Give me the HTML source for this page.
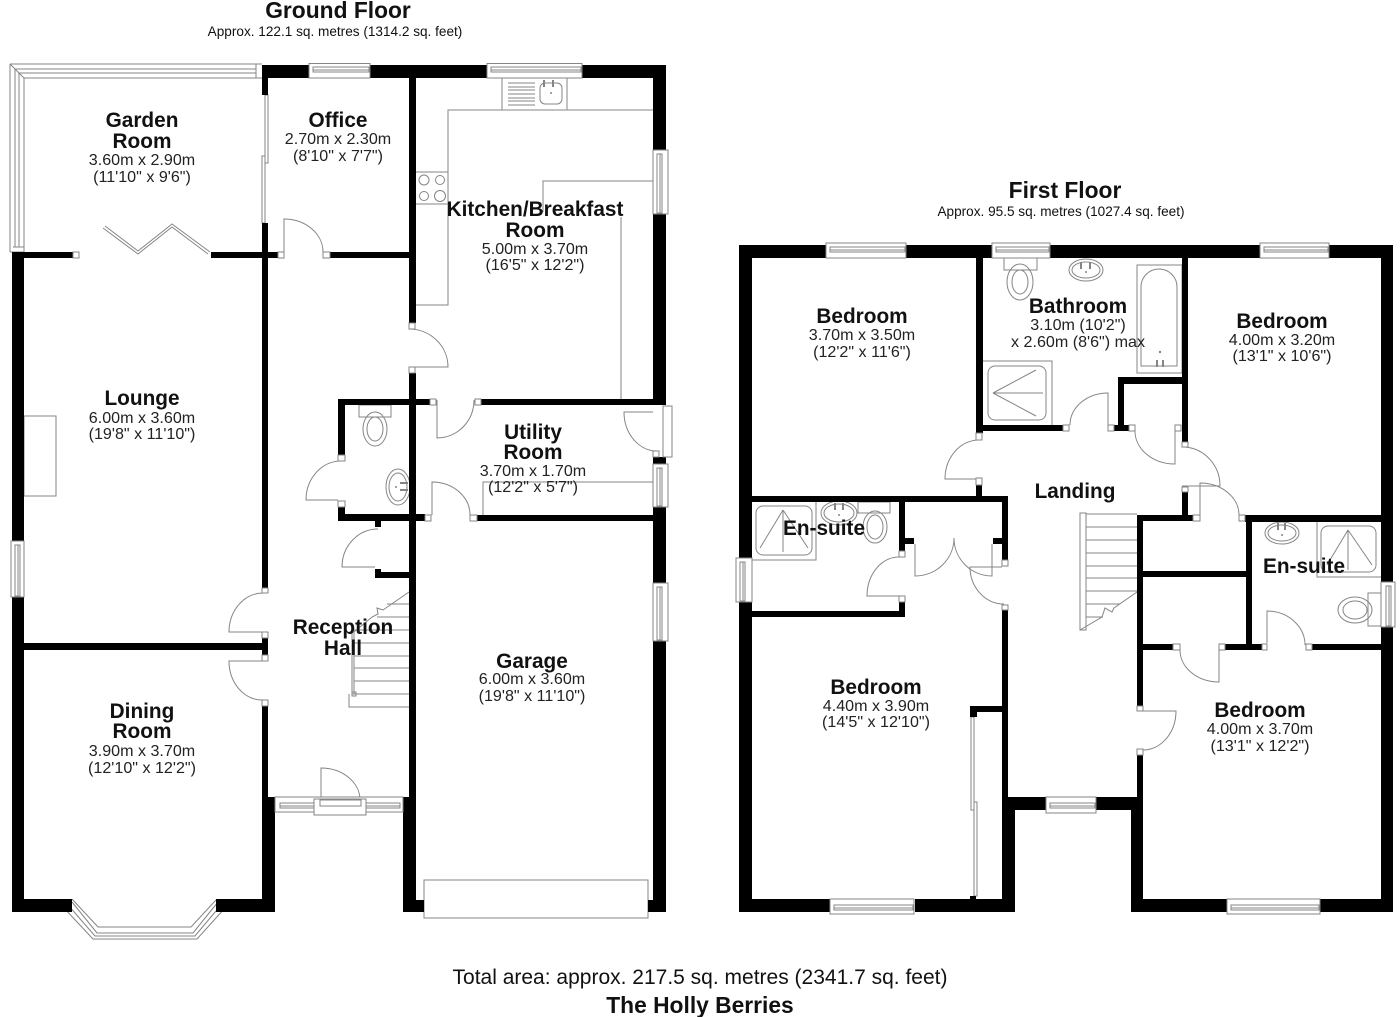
<!DOCTYPE html>
<html><head><meta charset="utf-8"><title>The Holly Berries</title>
<style>
html,body{margin:0;padding:0;background:#fff}
svg{display:block}
text{font-family:"Liberation Sans",sans-serif;fill:#111;text-anchor:middle}
.t{font-weight:bold;font-size:20.8px}
.d{font-size:16.1px;fill:#222}
.l{fill:none;stroke:#858585;stroke-width:1}
.j{fill:#fff;stroke:#858585;stroke-width:1}
.k{fill:#858585;stroke:none}
</style></head><body>
<svg width="1400" height="1017" viewBox="0 0 1400 1017" xmlns="http://www.w3.org/2000/svg">
<rect width="1400" height="1017" fill="#fff"/>

<!-- GROUND FLOOR fixtures and thin lines -->
<g class="l">
<path d="M10 64H262M15 69H256M19 73H256M24 78H262M10 64V252M15 69V247M19 73V247M24 78V252M10 64L24 78M10 252H24M256 64V78M13 247H24"/>
<path d="M265 95H268V163H265ZM262 156H265V223H262Z"/>
<path d="M103 228L138 254L172 227L208 254M105 226L138 251L172 224L210 252"/>
<path d="M416 305H448V110H653M502 78V110M567 78V110M416 172H448M416 204H448M543 212V181H653M621 217V400"/>
<path d="M508 83H535M508 87H535M508 90H535M508 94H535M508 98H535M508 101H535M508 105H535"/>
<rect x="540" y="83" width="22" height="21" rx="5"/>
<path d="M544 80v7M553 80v7" stroke-width="2"/>
<circle cx="424" cy="180" r="5"/><circle cx="440" cy="180" r="4.5"/><circle cx="424" cy="196" r="4.5"/><circle cx="440" cy="196" r="5.5"/>
<path d="M284 252V219A39 33 0 0 1 323 252"/>
<path d="M409 367H448A39 38 0 0 0 409 329"/>
<path d="M437 400V438A37 38 0 0 0 474 400"/>
<path d="M432 515V482A38 33 0 0 1 470 515"/>
<path d="M653 412H624A33 39 0 0 0 657 451"/>
<path d="M338 500H306A35 39 0 0 1 341 461"/>
<path d="M375 567H342A36 38 0 0 1 378 529"/>
<path d="M262 632H229A34 39 0 0 1 263 593"/>
<path d="M262 661H229A33 39 0 0 0 262 700"/>
<path d="M321 800V768A39 32 0 0 1 360 800"/>
<path d="M483 515V482H653"/>
<rect x="359" y="405" width="32" height="12"/>
<ellipse cx="375" cy="429" rx="12" ry="17"/><ellipse cx="375" cy="429" rx="8" ry="12"/>
<ellipse cx="398" cy="487" rx="12" ry="18"/><ellipse cx="398" cy="487" rx="9" ry="14"/>
<path d="M400 483h8M400 490h8" stroke-width="2"/>
<rect x="24" y="416" width="32" height="80"/>
<path d="M409 592L383 610L377 608L378 614L372 617L354 632V694M352 632V694H409M349 694V707H409M387 604H409M377 617H409M354 630H409M354 643H409M354 656H409M354 668H409M354 681H409"/>
<rect x="352" y="692" width="4" height="4"/>
<path d="M424 900V880H648V918H424Z" fill="#fff"/>
<path d="M64 908L93 939H197L225 908M68 905L95 936H195L221 905M72 902L97 933H193L218 902M72 899L98 927H191L216 900M64 908L72 899M225 908L216 900"/>
</g>
<g class="k">
<circle cx="551" cy="93" r="1"/><circle cx="396" cy="487" r="1"/>
<circle cx="1086" cy="272" r="1"/><circle cx="1160" cy="352" r="1.2"/>
<circle cx="839" cy="515" r="1"/><circle cx="1282" cy="535" r="1"/>
</g>

<!-- FIRST FLOOR fixtures and thin lines -->
<g class="l">
<rect x="1004" y="258" width="33" height="12"/>
<ellipse cx="1020" cy="282" rx="13" ry="18"/><ellipse cx="1020" cy="282" rx="8" ry="12"/>
<ellipse cx="1086" cy="270" rx="17" ry="11"/><ellipse cx="1086" cy="270" rx="14" ry="8"/>
<path d="M1081 262v7M1090 262v7" stroke-width="2"/>
<rect x="1137" y="265" width="45" height="108"/>
<path d="M1141 366V287A18 18 0 0 1 1177 287V366Z"/>
<path d="M1157 360v7M1163 360v7" stroke-width="2"/>
<path d="M983 361H1052V425"/>
<rect x="988" y="366" width="58" height="54" rx="7"/>
<path d="M993 393L1036 370M993 393H1043M993 393L1036 416"/>
<path d="M977 479H945A34 39 0 0 1 979 440"/>
<path d="M1108 425V393A38 32 0 0 0 1070 425"/>
<path d="M1175 431V464A40 33 0 0 1 1135 431"/>
<path d="M1182 486H1220A38 39 0 0 0 1185 447"/>
<path d="M1200 515V483A39 32 0 0 1 1239 515"/>
<path d="M899 596H867A32 39 0 0 1 899 557"/>
<path d="M915 544V576A39 38 0 0 0 954 538"/>
<path d="M992 544V576A38 38 0 0 1 954 538"/>
<path d="M1002 567H970A34 37 0 0 0 1004 604"/>
<path d="M1143 711H1176A33 39 0 0 1 1143 750"/>
<path d="M1219 650V682A39 32 0 0 1 1180 650"/>
<path d="M1267 643V611A38 34 0 0 1 1305 645"/>
<path d="M752 560H816V502"/>
<rect x="756" y="506" width="56" height="49" rx="7"/>
<path d="M783 510L760 548M783 510V552M783 510L808 548"/>
<ellipse cx="839" cy="513" rx="18" ry="12"/><ellipse cx="839" cy="513" rx="15" ry="9"/>
<path d="M835 503v7M843 503v7" stroke-width="2"/>
<rect x="858" y="502" width="32" height="11"/>
<ellipse cx="875" cy="527" rx="12" ry="16"/><ellipse cx="875" cy="527" rx="8" ry="12"/>
<ellipse cx="1282" cy="533" rx="17" ry="11"/><ellipse cx="1282" cy="533" rx="14" ry="8"/>
<path d="M1278 523v7M1285 523v7" stroke-width="2"/>
<path d="M1317 522V577H1381"/>
<rect x="1321" y="526" width="55" height="46" rx="7"/>
<path d="M1348 530L1327 565M1348 530V570M1348 530L1372 565"/>
<rect x="1368" y="593" width="13" height="33"/>
<ellipse cx="1355" cy="610" rx="17" ry="13"/><ellipse cx="1355" cy="610" rx="12" ry="9"/>
<path d="M1080 513H1086V630H1080ZM1086 514H1137M1086 527H1137M1086 540H1137M1086 553H1137M1086 566H1137M1086 578H1137M1086 591H1137M1086 604H1120M1086 617H1103M1137 592L1114 608L1112 612L1105 608L1102 617L1080 630"/>
<path d="M971 717H974V810H971ZM974 802H977V896H974Z"/>
</g>

<!-- WALLS -->
<g fill="#000">
<!-- ground -->
<rect x="262" y="65" width="48" height="13"/><rect x="262" y="78" width="6" height="17"/>
<rect x="370" y="65" width="117" height="13"/><rect x="582" y="65" width="84" height="13"/>
<rect x="653" y="65" width="13" height="85"/><rect x="653" y="214" width="13" height="191"/>
<rect x="653" y="457" width="13" height="7"/><rect x="653" y="507" width="13" height="76"/><rect x="653" y="641" width="13" height="271"/>
<rect x="409" y="78" width="7" height="245"/><rect x="409" y="373" width="7" height="424"/>
<rect x="403" y="797" width="13" height="115"/><rect x="416" y="900" width="8" height="12"/><rect x="648" y="900" width="18" height="12"/>
<rect x="12" y="252" width="12" height="289"/><rect x="12" y="597" width="12" height="315"/>
<rect x="24" y="252" width="49" height="6"/><rect x="211" y="252" width="67" height="6"/><rect x="330" y="252" width="79" height="6"/>
<rect x="262" y="223" width="6" height="365"/><rect x="262" y="638" width="6" height="17"/><rect x="262" y="706" width="6" height="91"/>
<rect x="262" y="797" width="13" height="115"/>
<rect x="24" y="643" width="238" height="7"/>
<rect x="12" y="899" width="60" height="13"/><rect x="216" y="899" width="59" height="13"/>
<rect x="338" y="399" width="7" height="56"/><rect x="338" y="507" width="7" height="14"/>
<rect x="338" y="399" width="92" height="6"/><rect x="481" y="399" width="172" height="6"/>
<rect x="338" y="514" width="87" height="7"/><rect x="477" y="515" width="176" height="6"/>
<rect x="375" y="521" width="6" height="6"/><rect x="375" y="569" width="6" height="9"/><rect x="375" y="572" width="34" height="6"/>
<!-- first -->
<rect x="739" y="245" width="87" height="13"/><rect x="906" y="245" width="86" height="13"/><rect x="1050" y="245" width="210" height="13"/><rect x="1329" y="245" width="64" height="13"/>
<rect x="1381" y="245" width="12" height="337"/><rect x="1381" y="627" width="12" height="285"/>
<rect x="739" y="245" width="13" height="313"/><rect x="739" y="602" width="13" height="310"/>
<rect x="739" y="899" width="91" height="13"/><rect x="915" y="899" width="100" height="13"/><rect x="1131" y="899" width="96" height="13"/><rect x="1320" y="899" width="73" height="13"/>
<rect x="976" y="258" width="7" height="175"/><rect x="976" y="485" width="6" height="11"/>
<rect x="976" y="425" width="87" height="6"/><rect x="1114" y="425" width="15" height="6"/>
<rect x="1118" y="377" width="6" height="54"/><rect x="1118" y="377" width="70" height="7"/>
<rect x="1182" y="258" width="6" height="184"/><rect x="1182" y="492" width="6" height="23"/>
<rect x="752" y="496" width="256" height="6"/>
<rect x="1002" y="496" width="6" height="64"/><rect x="1002" y="610" width="6" height="187"/>
<rect x="1002" y="797" width="13" height="115"/>
<rect x="1002" y="797" width="44" height="13"/><rect x="1096" y="797" width="47" height="13"/>
<rect x="1131" y="797" width="12" height="115"/><rect x="1137" y="755" width="6" height="42"/>
<rect x="1137" y="515" width="6" height="191"/><rect x="1137" y="515" width="56" height="6"/>
<rect x="1245" y="515" width="136" height="7"/><rect x="1246" y="515" width="6" height="135"/>
<rect x="1143" y="571" width="103" height="6"/>
<rect x="1143" y="644" width="30" height="6"/><rect x="1225" y="644" width="37" height="6"/><rect x="1312" y="644" width="69" height="6"/>
<rect x="899" y="502" width="6" height="49"/><rect x="905" y="538" width="9" height="6"/><rect x="993" y="538" width="9" height="6"/>
<rect x="899" y="602" width="6" height="15"/><rect x="752" y="611" width="153" height="6"/>
<rect x="970" y="706" width="32" height="6"/><rect x="970" y="706" width="7" height="11"/><rect x="970" y="896" width="6" height="3"/>
</g>

<!-- JAMBS -->
<g class="j">
<rect x="73" y="252" width="6" height="6"/><rect x="278" y="252" width="6" height="6"/><rect x="323" y="252" width="7" height="6"/>
<rect x="409" y="323" width="6" height="6"/><rect x="409" y="367" width="6" height="6"/>
<rect x="430" y="399" width="6" height="6"/><rect x="475" y="399" width="6" height="6"/>
<rect x="425" y="515" width="6" height="6"/><rect x="470" y="515" width="7" height="6"/>
<rect x="338" y="455" width="7" height="6"/><rect x="338" y="501" width="7" height="6"/>
<rect x="262" y="588" width="6" height="5"/><rect x="262" y="632" width="6" height="6"/><rect x="262" y="655" width="6" height="6"/><rect x="262" y="700" width="6" height="6"/>
<rect x="653" y="451" width="6" height="6"/>
<rect x="1063" y="425" width="6" height="6"/><rect x="1108" y="425" width="6" height="6"/><rect x="1129" y="425" width="6" height="6"/><rect x="1175" y="425" width="6" height="6"/>
<rect x="976" y="433" width="6" height="7"/><rect x="976" y="478" width="6" height="7"/>
<rect x="1182" y="442" width="6" height="5"/><rect x="1182" y="487" width="6" height="5"/>
<rect x="1193" y="515" width="7" height="6"/><rect x="1239" y="515" width="6" height="6"/>
<rect x="899" y="551" width="6" height="6"/><rect x="899" y="596" width="6" height="6"/>
<rect x="1002" y="560" width="6" height="6"/><rect x="1002" y="605" width="6" height="5"/>
<rect x="1137" y="706" width="6" height="5"/><rect x="1137" y="749" width="6" height="6"/>
<rect x="1173" y="644" width="7" height="6"/><rect x="1219" y="644" width="6" height="6"/>
<rect x="1262" y="644" width="5" height="6"/><rect x="1306" y="644" width="6" height="6"/>
</g>

<!-- WINDOWS -->
<g class="j">
<path d="M309 63.5H370V78H309ZM313 67H369V72H313ZM313 70H369"/>
<path d="M487 63.5H582V78H487ZM491 67H581V72H491ZM491 70H581"/>
<path d="M653 150H668V214H653ZM657 154V213H662V154ZM660 154V213"/>
<path d="M653 464H668V507H653ZM657 468V506H662V468ZM660 468V506"/>
<path d="M653 583H668V641H653ZM657 587V640H662V587ZM660 587V640"/>
<path d="M663 406H672V457H663Z"/>
<path d="M11 541H24V597H11ZM15 545V596H20V545ZM18 545V596"/>
<path d="M275 797H403V812H275ZM280 803H400V808H280ZM280 806H400"/>
<path d="M314 799H366V815H314ZM320 800H361V806H320Z"/>
<path d="M826 243H906V258H826ZM830 247H905V252H830ZM830 250H905"/>
<path d="M992 243H1050V258H992ZM996 247H1049V252H996ZM996 250H1049"/>
<path d="M1260 243H1329V258H1260ZM1264 247H1328V252H1264ZM1264 250H1328"/>
<path d="M736 558H752V602H736ZM740 562V601H745V562ZM743 562V601"/>
<path d="M1381 582H1395V627H1381ZM1386 586V626H1391V586ZM1389 586V626"/>
<path d="M1046 797H1096V813H1046ZM1050 803H1095V808H1050ZM1050 806H1095"/>
<path d="M830 899H914V914H830ZM834 905H913V910H834ZM834 908H913"/>
<path d="M1227 899H1320V914H1227ZM1231 905H1319V910H1231ZM1231 908H1319"/>
</g>

<!-- TEXT -->
<text x="338" y="18" font-size="22.8" font-weight="bold">Ground Floor</text>
<text x="335" y="36" font-size="13.6">Approx. 122.1 sq. metres (1314.2 sq. feet)</text>
<text x="1065" y="198" font-size="22.8" font-weight="bold">First Floor</text>
<text x="1061" y="216" font-size="13.6">Approx. 95.5 sq. metres (1027.4 sq. feet)</text>

<text class="t" x="142" y="127">Garden</text><text class="t" x="142" y="148">Room</text>
<text class="d" x="142" y="165">3.60m x 2.90m</text><text class="d" x="142" y="182">(11'10" x 9'6")</text>

<text class="t" x="338" y="127">Office</text>
<text class="d" x="338" y="144">2.70m x 2.30m</text><text class="d" x="338" y="161">(8'10" x 7'7")</text>

<text class="t" x="535" y="216">Kitchen/Breakfast</text><text class="t" x="535" y="237">Room</text>
<text class="d" x="535" y="254">5.00m x 3.70m</text><text class="d" x="535" y="270">(16'5" x 12'2")</text>

<text class="t" x="142" y="405">Lounge</text>
<text class="d" x="142" y="423">6.00m x 3.60m</text><text class="d" x="142" y="439">(19'8" x 11'10")</text>

<text class="t" x="142" y="718">Dining</text><text class="t" x="142" y="738">Room</text>
<text class="d" x="142" y="756">3.90m x 3.70m</text><text class="d" x="142" y="773">(12'10" x 12'2")</text>

<text class="t" x="533" y="439">Utility</text><text class="t" x="533" y="459">Room</text>
<text class="d" x="533" y="476">3.70m x 1.70m</text><text class="d" x="533" y="492">(12'2" x 5'7")</text>

<text class="t" x="343" y="634">Reception</text><text class="t" x="343" y="655">Hall</text>

<text class="t" x="532" y="668">Garage</text>
<text class="d" x="532" y="684">6.00m x 3.60m</text><text class="d" x="532" y="701">(19'8" x 11'10")</text>

<text class="t" x="862" y="323">Bedroom</text>
<text class="d" x="862" y="340">3.70m x 3.50m</text><text class="d" x="862" y="357">(12'2" x 11'6")</text>

<text class="t" x="1078" y="313">Bathroom</text>
<text class="d" x="1078" y="330">3.10m (10'2")</text><text class="d" x="1078" y="347">x 2.60m (8'6") max</text>

<text class="t" x="1282" y="328">Bedroom</text>
<text class="d" x="1282" y="345">4.00m x 3.20m</text><text class="d" x="1282" y="361">(13'1" x 10'6")</text>

<text class="t" x="1075" y="498">Landing</text>
<text class="t" x="824" y="535">En-suite</text>
<text class="t" x="1304" y="573">En-suite</text>

<text class="t" x="876" y="694">Bedroom</text>
<text class="d" x="876" y="711">4.40m x 3.90m</text><text class="d" x="876" y="727">(14'5" x 12'10")</text>

<text class="t" x="1260" y="717">Bedroom</text>
<text class="d" x="1260" y="734">4.00m x 3.70m</text><text class="d" x="1260" y="751">(13'1" x 12'2")</text>

<text x="700" y="984" font-size="21">Total area: approx. 217.5 sq. metres (2341.7 sq. feet)</text>
<text x="700" y="1013" font-size="22.8" font-weight="bold">The Holly Berries</text>
</svg>
</body></html>
